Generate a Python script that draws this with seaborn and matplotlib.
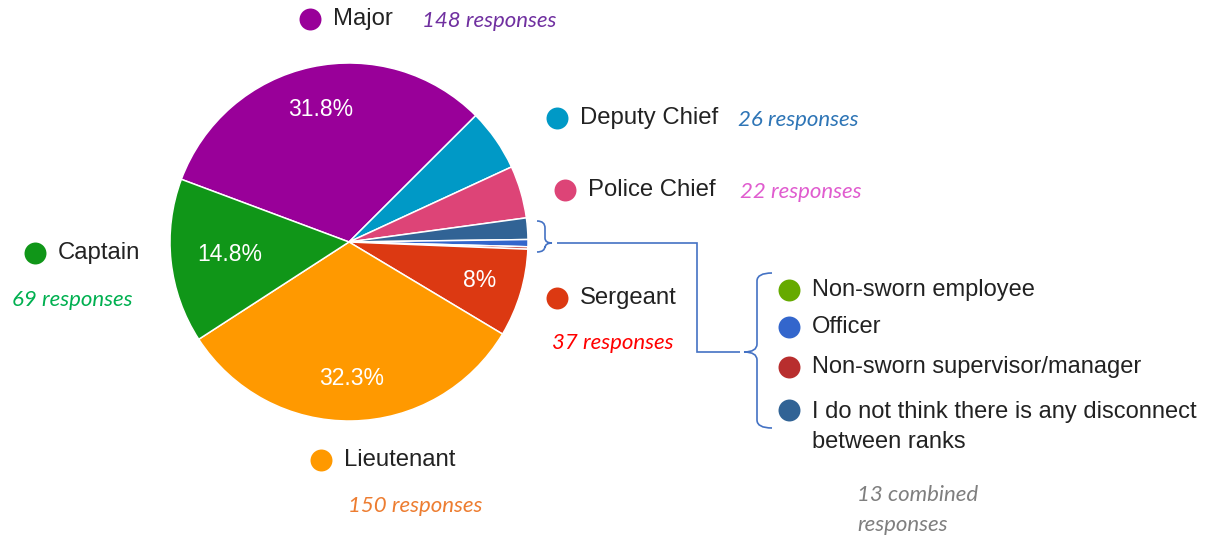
import numpy as np
import matplotlib
matplotlib.use("Agg")
import matplotlib.pyplot as plt
from matplotlib.path import Path
from matplotlib.patches import PathPatch
import seaborn as sns

# slice data, clockwise order as drawn
categories = ["Major", "Deputy Chief", "Police Chief",
              "I do not think there is any disconnect between ranks",
              "Officer", "Non-sworn supervisor/manager", "Non-sworn employee",
              "Sergeant", "Lieutenant", "Captain"]
counts = [148, 26, 22, 9, 3, 1, 0, 37, 150, 69]
slice_colors = ["#990099", "#0099c6", "#dd4477", "#316395", "#3366cc",
                "#b82e2e", "#66aa00", "#dc3912", "#ff9900", "#109618"]

# labels placed around the pie
main_labels = ["Major", "Deputy Chief", "Police Chief", "Captain", "Sergeant", "Lieutenant"]
response_text = ["148 responses", "26 responses", "22 responses",
                 "69 responses", "37 responses", "150 responses"]
response_colors = ["#7030a0", "#2e75b6", "#e05ccf", "#00b050", "#ff0000", "#ed7d31"]

small_labels = ["Non-sworn employee", "Officer", "Non-sworn supervisor/manager",
                "I do not think there is any disconnect\nbetween ranks"]
combined_text = "13 combined\nresponses"

W, H = 1218, 537
sns.set_style("white")
plt.rcParams["font.family"] = ["Liberation Sans", "DejaVu Sans"]

fig = plt.figure(figsize=(W / 100, H / 100), dpi=100)
ax = fig.add_axes([0, 0, 1, 1])


def Y(y):
    return H - y


palette = dict(zip(categories, sns.color_palette(slice_colors)))
keep = [i for i, c in enumerate(counts) if c > 0]
vals = [counts[i] for i in keep]
cols = [palette[categories[i]] for i in keep]
names = [categories[i] for i in keep]


def fmt(p):
    if p < 7:
        return ""
    s = f"{p:.1f}"
    if s.endswith(".0"):
        s = s[:-2]
    return s + "%"


cx, cy, r = 349, Y(242), 179
wedges, _, pcts = ax.pie(vals, colors=cols, startangle=159.5, counterclock=False,
                         center=(cx, cy), radius=r, frame=True, autopct=fmt,
                         pctdistance=0.76,
                         wedgeprops=dict(edgecolor="white", linewidth=1.1),
                         textprops=dict(color="white", fontsize=16.5))
# Captain label sits a bit closer to the centre
for w, t, n in zip(wedges, pcts, names):
    if n == "Captain":
        a = np.deg2rad((w.theta1 + w.theta2) / 2)
        t.set_position((cx + 0.67 * r * np.cos(a), cy + 0.67 * r * np.sin(a)))

ax.set_xlim(0, W)
ax.set_ylim(0, H)
ax.set_aspect("equal")
ax.axis("off")

# outer labels: circle x, text x, y, response x, response y
spots = {
    "Major": (310, 333, 19, 422, 21),
    "Deputy Chief": (557, 580, 118, 738, 120),
    "Police Chief": (565, 588, 190, 740, 192),
    "Captain": (35, 58, 253, 12, 300),
    "Sergeant": (557, 580, 298, 552, 343),
    "Lieutenant": (321, 344, 460, 348, 506),
}
label_kw = dict(fontsize=17.2, color="#222222", va="center", ha="left")
resp_kw = dict(fontsize=16, family=["Lato", "DejaVu Sans"], style="italic",
               va="center", ha="left")
for lab, txt, rc in zip(main_labels, response_text, response_colors):
    mx, tx, ty, rx, ry = spots[lab]
    ax.scatter([mx], [Y(ty)], s=250, color=palette[lab], linewidths=0, zorder=3)
    ax.text(tx, Y(ty), lab, **label_kw)
    ax.text(rx, Y(ry), txt, color=rc, **resp_kw)

# right legend for the small slices
leg_y = [290, 327, 367, 410]
leg_names = ["Non-sworn employee", "Officer", "Non-sworn supervisor/manager",
             "I do not think there is any disconnect between ranks"]
for lab, name, yy in zip(small_labels, leg_names, leg_y):
    ax.scatter([789], [Y(yy)], s=250, color=palette[name], linewidths=0, zorder=3)
    ty = Y(yy) if "\n" not in lab else Y(427)
    ax.text(812, ty, lab, fontsize=17, color="#222222", va="center",
            ha="left", linespacing=1.5)

ax.text(857, Y(510), combined_text, color="#7f7f7f", linespacing=1.6, **resp_kw)

# brackets and connector
bc = "#4472c4"
Q, L, M = Path.CURVE3, Path.LINETO, Path.MOVETO
b1 = [(537, 221), (545, 221), (545, 228), (545, 238), (545, 243), (552, 243),
      (545, 243), (545, 248), (545, 246), (545, 252), (537, 252)]
b1c = [M, Q, Q, L, Q, Q, Q, Q, L, Q, Q]
b2 = [(772, 273), (757, 273), (757, 281), (757, 344), (757, 352), (744, 352),
      (757, 352), (757, 360), (757, 420), (757, 428), (772, 428)]
b2c = [M, Q, Q, L, Q, Q, Q, Q, L, Q, Q]
conn = [(557, 243), (697, 243), (697, 352), (740, 352)]
conc = [M, L, L, L]
for pts, codes in [(b1, b1c), (b2, b2c), (conn, conc)]:
    path = Path([(x, Y(y)) for x, y in pts], codes)
    ax.add_patch(PathPatch(path, fill=False, edgecolor=bc, linewidth=1.2))

fig.savefig("out.png", dpi=100)
